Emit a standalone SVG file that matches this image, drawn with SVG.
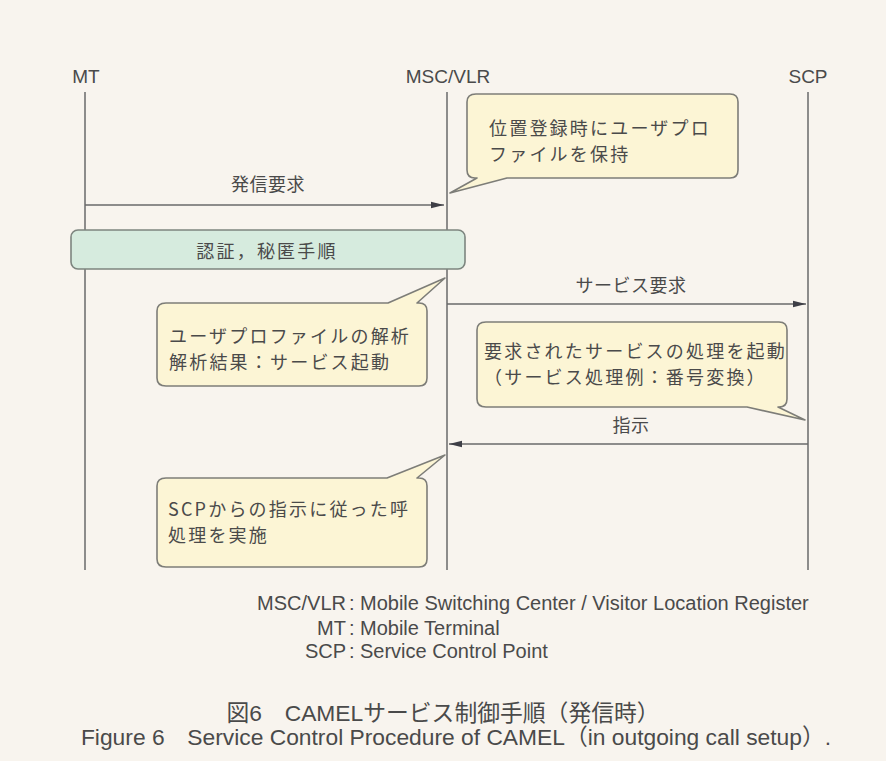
<svg xmlns="http://www.w3.org/2000/svg" width="886" height="761" viewBox="0 0 886 761">
<style>
.bg{fill:#f8f4ee}
.life{stroke:#6a6a6a;stroke-width:1.5;fill:none}
.msg{stroke:#6a6a6a;stroke-width:1.4;fill:none}
.call{fill:#fcf5d5;stroke:#7d7d78;stroke-width:1.6;stroke-linejoin:round}
.auth{fill:#d6ebde;stroke:#7d857f;stroke-width:1.6}
.hd{font-family:"Liberation Sans",Arial,sans-serif;font-size:19px;fill:#4a4a4a}
.jp{font-family:"Noto Sans CJK JP","Noto Sans",sans-serif;font-size:18px;fill:#4a4a4a;letter-spacing:2.2px}
.lb{font-family:"Noto Sans CJK JP","Noto Sans",sans-serif;font-size:18px;fill:#4a4a4a;letter-spacing:0.5px}
.lg{font-family:"Liberation Sans",Arial,sans-serif;font-size:20px;fill:#4a4a4a}
.cap{font-family:"Liberation Sans",Arial,"Noto Sans CJK JP",sans-serif;font-size:22.8px;fill:#4a4a4a}
</style>
<defs>
<marker id="ah" markerWidth="14" markerHeight="8" refX="13" refY="4" orient="auto" markerUnits="userSpaceOnUse">
<path d="M0,0.8 L13,4 L0,7.2 Z" fill="#3e3e46"/>
</marker>
</defs>
<rect class="bg" x="0" y="0" width="886" height="761"/>

<g id="MT">
<text class="hd" x="86" y="83" text-anchor="middle">MT</text>
<line class="life" x1="85" y1="92" x2="85" y2="570"/>
</g>
<g id="MSC_VLR">
<text class="hd" x="448" y="83" text-anchor="middle">MSC/VLR</text>
<line class="life" x1="447" y1="92" x2="447" y2="570"/>
</g>
<g id="SCP">
<text class="hd" x="808" y="83" text-anchor="middle">SCP</text>
<line class="life" x1="808" y1="92" x2="808" y2="570"/>
</g>

<g id="connectors">
<line class="msg" x1="85" y1="205" x2="444" y2="205" marker-end="url(#ah)"/>
<text class="lb" x="268" y="191" text-anchor="middle">発信要求</text>
<line class="msg" x1="447" y1="304" x2="806" y2="304" marker-end="url(#ah)"/>
<text class="lb" x="631" y="292" text-anchor="middle">サービス要求</text>
<line class="msg" x1="808" y1="444" x2="449" y2="444" marker-end="url(#ah)"/>
<text class="lb" x="631" y="432" text-anchor="middle">指示</text>
</g>

<g id="auth">
<rect class="auth" x="71" y="230" width="394" height="39" rx="7"/>
<text class="jp" x="267" y="258" text-anchor="middle">認証，秘匿手順</text>
</g>

<g id="note1">
<path class="call" d="M476,94 H730 Q738,94 738,102 V170 Q738,178 730,178 H507 L450,193 L477,178 H475 Q467,178 467,170 V102 Q467,94 476,94 Z"/>
<text class="jp" x="489" y="135">位置登録時にユーザプロ</text>
<text class="jp" x="489" y="161">ファイルを保持</text>
</g>

<g id="note2">
<path class="call" d="M166,303 H388 L445,278 L417,303 H419 Q427,303 427,311 V378 Q427,386 419,386 H166 Q157,386 157,378 V311 Q157,303 166,303 Z"/>
<text class="jp" x="169" y="343">ユーザプロファイルの解析</text>
<text class="jp" x="169" y="369">解析結果：サービス起動</text>
</g>

<g id="note3">
<path class="call" d="M486,322 H779 Q787,322 787,330 V399 Q787,407 779,407 H778 L805,420 L747,407 H486 Q477,407 477,399 V330 Q477,322 486,322 Z"/>
<text class="jp" x="484" y="358">要求されたサービスの処理を起動</text>
<text class="jp" x="484" y="384">（サービス処理例：番号変換）</text>
</g>

<g id="note4">
<path class="call" d="M166,478 H387 L445,455 L417,478 H419 Q427,478 427,486 V559 Q427,567 419,567 H166 Q157,567 157,559 V486 Q157,478 166,478 Z"/>
<text class="jp" x="168" y="516">SCPからの指示に従った呼</text>
<text class="jp" x="168" y="542">処理を実施</text>
</g>

<g id="legend">
<text class="lg" x="346" y="610" text-anchor="end">MSC/VLR</text>
<text class="lg" x="346" y="635" text-anchor="end">MT</text>
<text class="lg" x="346" y="658" text-anchor="end">SCP</text>
<text class="lg" x="349" y="610">:</text>
<text class="lg" x="349" y="635">:</text>
<text class="lg" x="349" y="658">:</text>
<text class="lg" x="360" y="610">Mobile Switching Center / Visitor Location Register</text>
<text class="lg" x="360" y="635">Mobile Terminal</text>
<text class="lg" x="360" y="658">Service Control Point</text>
</g>

<g id="caption">
<text class="cap" x="443" y="721" text-anchor="middle">図6　CAMELサービス制御手順（発信時）</text>
<text class="cap" x="456" y="745" text-anchor="middle">Figure 6　Service Control Procedure of CAMEL（in outgoing call setup）.</text>
</g>
</svg>
